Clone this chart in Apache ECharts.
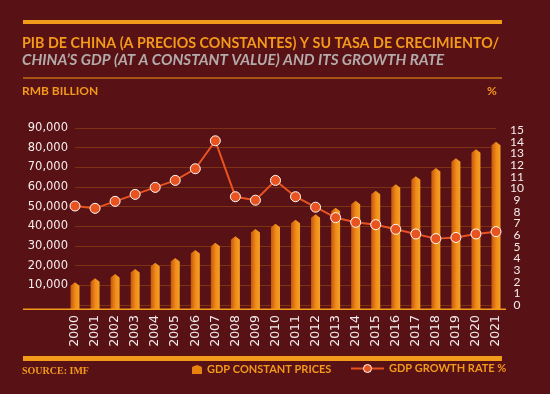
<!DOCTYPE html>
<html>
<head>
<meta charset="utf-8">
<script src="https://cdn.jsdelivr.net/npm/echarts@6/dist/echarts.min.js"></script>
<style>
html,body{margin:0;padding:0;background:#581114;}
#c{width:550px;height:394px;}
</style>
</head>
<body>
<div id="c"></div>
<script>
const years = ['2000','2001','2002','2003','2004','2005','2006','2007','2008','2009','2010','2011','2012','2013','2014','2015','2016','2017','2018','2019','2020','2021'];
const gdpConstant = [11540,13560,15760,18300,21520,23900,27970,31700,34930,38640,41360,43390,46100,49490,53050,58130,61360,65430,69660,74590,79170,83050];
const growthRate = [8.5,8.3,8.9,9.5,10.1,10.7,11.7,14.1,9.3,9.0,10.7,9.3,8.4,7.5,7.1,6.9,6.5,6.1,5.7,5.8,6.1,6.3];
const leftTicks = {min:0, max:90000, interval:10000};
const rightTicks = {min:0, max:15.2, interval:1};

const ORANGE = '#f39a1b';
const BG = '#581114';
const chart = echarts.init(document.getElementById('c'), null, {renderer:'canvas'});

const rightLabelStyle = {color:'#f4ecec', fontFamily:'Lato', fontSize:12, margin:21, align:'center'};

const option = {
  backgroundColor: BG,
  animation: false,
  title: [
    {text:'PIB DE CHINA (A PRECIOS CONSTANTES) Y SU TASA DE CRECIMIENTO/', left:22, top:36, padding:0,
     textStyle:{color:ORANGE, fontFamily:'Lato', fontWeight:'bold', fontSize:14.3}},
    {text:'CHINA’S GDP (AT A CONSTANT VALUE) AND ITS GROWTH RATE', left:22, top:53, padding:0,
     textStyle:{color:'#b3abab', fontFamily:'Lato', fontWeight:'bold', fontStyle:'italic', fontSize:15.2}},
    {text:'RMB BILLION', left:22, top:85, padding:0,
     textStyle:{color:ORANGE, fontFamily:'Lato', fontWeight:'bold', fontSize:12}},
    {text:'%', left:487, top:85, padding:0,
     textStyle:{color:ORANGE, fontFamily:'Lato', fontWeight:'bold', fontSize:12}},
    {text:'SOURCE: IMF', left:22, top:366, padding:0,
     textStyle:{color:ORANGE, fontFamily:'Liberation Serif', fontWeight:'bold', fontSize:10}}
  ],
  graphic: [
    {type:'rect', shape:{x:23, y:20, width:479, height:4}, style:{fill:ORANGE}, silent:true},
    {type:'rect', shape:{x:23, y:77.5, width:479, height:1}, style:{fill:ORANGE}, silent:true},
    {type:'rect', shape:{x:23, y:356, width:479, height:5}, style:{fill:ORANGE}, silent:true},
    {type:'rect', shape:{x:23, y:308.5, width:483, height:1.5}, style:{fill:ORANGE}, silent:true, z:100}
  ],
  legend: [
    {data:[{name:'GDP CONSTANT PRICES', icon:'path://M0,3 Q0,2 1,1.6 L5,0 L9,1.6 Q10,2 10,3 L10,9 L0,9 Z'}],
     left:192, top:364, itemWidth:10, itemHeight:9, itemGap:4, padding:0,
     textStyle:{color:ORANGE, fontFamily:'Lato', fontWeight:'bold', fontSize:11}},
    {data:[{name:'GDP GROWTH RATE %', itemStyle:{color:'#e8531f', borderColor:'#ffffff', borderWidth:1}}],
     left:350, top:363, itemWidth:33, itemHeight:10, padding:0,
     textStyle:{color:ORANGE, fontFamily:'Lato', fontWeight:'bold', fontSize:11}}
  ],
  grid: {left:75, right:54, top:128, bottom:89, containLabel:false},
  xAxis: {
    type:'category', data:years, boundaryGap:false,
    axisLine:{show:false}, axisTick:{show:false},
    axisLabel:{rotate:90, color:'#f4ecec', fontFamily:'DejaVu Sans', fontSize:12.5, margin:10, interval:0}
  },
  yAxis: [
    {type:'value', min:leftTicks.min, max:leftTicks.max, interval:leftTicks.interval,
     axisLine:{show:false}, axisTick:{show:false},
     splitLine:{lineStyle:{color:'#7e3214', width:1}},
     axisLabel:{color:'#f4ecec', fontFamily:'DejaVu Sans', fontSize:11.5, margin:7,
       formatter: v => v === 0 ? '' : v.toLocaleString('en-US')}},
    {type:'value', position:'right', min:rightTicks.min, max:rightTicks.max, interval:rightTicks.interval,
     axisLine:{show:false}, axisTick:{show:false}, splitLine:{show:false},
     axisLabel:Object.assign({}, rightLabelStyle, {
       formatter: v => (Number.isInteger(v) && v !== 0) ? String(v) : ''})},
    {type:'value', position:'right', min:rightTicks.min, max:rightTicks.max, interval:rightTicks.interval,
     axisLine:{show:false}, axisTick:{show:false}, splitLine:{show:false},
     axisLabel:Object.assign({}, rightLabelStyle, {showMinLabel:true,
       formatter: v => v === 0 ? '0' : ''})}
  ],
  series: [
    {
      name:'GDP CONSTANT PRICES', type:'custom', yAxisIndex:0,
      itemStyle:{color:'#e8820f'},
      data: gdpConstant.map((v,i)=>[i,v]),
      renderItem: function(params, api){
        const top = api.coord([api.value(0), api.value(1)]);
        const base = api.coord([api.value(0), 0]);
        const w = 9, tip = 3.5, cx = top[0];
        return {
          type:'polygon',
          shape:{points:[[cx-w/2, base[1]+4],[cx-w/2, top[1]+tip],[cx, top[1]],[cx+w/2, top[1]+tip],[cx+w/2, base[1]+4]]},
          style:{fill:new echarts.graphic.LinearGradient(0,0,1,0,[
            {offset:0, color:'#c6560c'},{offset:0.55, color:'#f08d1a'},{offset:1, color:'#f5a024'}])}
        };
      },
      z:2
    },
    {
      name:'GDP GROWTH RATE %', type:'line', yAxisIndex:1, data:growthRate,
      symbol:'circle', symbolSize:10,
      lineStyle:{color:'#e8531f', width:2},
      itemStyle:{color:'#e8531f', borderColor:'#ffffff', borderWidth:1},
      z:5
    }
  ]
};
chart.setOption(option);
</script>
</body>
</html>
